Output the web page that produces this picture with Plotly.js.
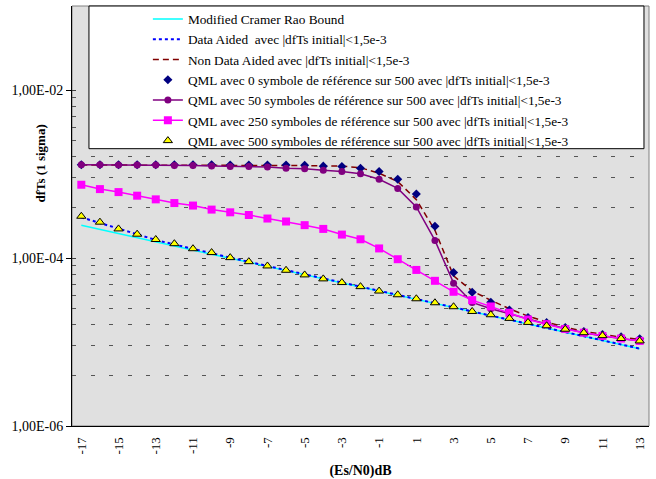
<!DOCTYPE html>
<html>
<head>
<meta charset="utf-8">
<script src="https://cdn.plot.ly/plotly-3.0.1.min.js"></script>
<style>html,body{margin:0;padding:0;background:#fff;}#chart{width:656px;height:479px;}</style>
</head>
<body>
<div id="chart"></div>
<script>
// Es/N0 (dB)
const esn0 = [-17,-16,-15,-14,-13,-12,-11,-10,-9,-8,-7,-6,-5,-4,-3,-2,-1,0,1,2,3,4,5,6,7,8,9,10,11,12,13];

const crb = [2.46e-4,2.19e-4,1.96e-4,1.75e-4,1.56e-4,1.40e-4,1.25e-4,1.11e-4,9.96e-5,8.90e-5,7.95e-5,7.10e-5,6.35e-5,5.67e-5,5.06e-5,4.52e-5,4.04e-5,3.61e-5,3.22e-5,2.88e-5,2.57e-5,2.30e-5,2.05e-5,1.83e-5,1.64e-5,1.46e-5,1.31e-5,1.17e-5,1.04e-5,9.32e-6,8.33e-6];

const dataAided = [3.05e-4,2.62e-4,2.25e-4,1.95e-4,1.64e-4,1.45e-4,1.28e-4,1.13e-4,1.01e-4,9.0e-5,8.05e-5,7.2e-5,6.4e-5,5.72e-5,5.1e-5,4.56e-5,4.07e-5,3.63e-5,3.24e-5,2.9e-5,2.59e-5,2.31e-5,2.06e-5,1.84e-5,1.65e-5,1.47e-5,1.31e-5,1.17e-5,1.05e-5,9.35e-6,8.35e-6];

const nonDataAided = [1.28e-3,1.28e-3,1.28e-3,1.28e-3,1.28e-3,1.28e-3,1.28e-3,1.28e-3,1.28e-3,1.28e-3,1.28e-3,1.27e-3,1.26e-3,1.25e-3,1.24e-3,1.19e-3,1.02e-3,8.14e-4,4.95e-4,2.14e-4,6.12e-5,4.06e-5,3.14e-5,2.49e-5,2.03e-5,1.73e-5,1.50e-5,1.34e-5,1.23e-5,1.14e-5,1.07e-5];

const qml0 = [1.29e-3,1.29e-3,1.29e-3,1.29e-3,1.29e-3,1.29e-3,1.29e-3,1.29e-3,1.28e-3,1.28e-3,1.28e-3,1.28e-3,1.27e-3,1.24e-3,1.23e-3,1.17e-3,1.07e-3,8.67e-4,5.77e-4,2.39e-4,6.73e-5,3.91e-5,2.97e-5,2.40e-5,1.96e-5,1.70e-5,1.49e-5,1.33e-5,1.23e-5,1.15e-5,1.09e-5];

const qml50 = [1.285e-3,1.285e-3,1.28e-3,1.28e-3,1.277e-3,1.262e-3,1.26e-3,1.244e-3,1.227e-3,1.23e-3,1.21e-3,1.17e-3,1.153e-3,1.11e-3,1.07e-3,1.005e-3,8.67e-4,6.73e-4,4.05e-4,1.62e-4,5.02e-5,2.96e-5,2.49e-5,2.17e-5,1.87e-5,1.64e-5,1.45e-5,1.29e-5,1.18e-5,1.10e-5,1.03e-5];

const qml250 = [7.45e-4,6.61e-4,6.09e-4,5.52e-4,4.99e-4,4.51e-4,4.21e-4,3.77e-4,3.50e-4,3.25e-4,2.95e-4,2.72e-4,2.46e-4,2.22e-4,1.90e-4,1.67e-4,1.30e-4,9.67e-5,7.21e-5,5.35e-5,3.96e-5,3.15e-5,2.65e-5,2.23e-5,1.85e-5,1.63e-5,1.43e-5,1.29e-5,1.18e-5,1.10e-5,1.03e-5];

const qml500 = [3.14e-4,2.67e-4,2.22e-4,1.92e-4,1.66e-4,1.48e-4,1.29e-4,1.16e-4,1.01e-4,9.04e-5,8.04e-5,7.14e-5,6.29e-5,5.64e-5,5.10e-5,4.56e-5,4.04e-5,3.65e-5,3.27e-5,2.93e-5,2.63e-5,2.31e-5,2.11e-5,1.91e-5,1.71e-5,1.56e-5,1.42e-5,1.29e-5,1.19e-5,1.10e-5,1.03e-5];

const seriesNames = [
  'Modified Cramer Rao Bound',
  'Data Aided  avec |dfTs initial|&lt;1,5e-3',
  'Non Data Aided avec |dfTs initial|&lt;1,5e-3',
  'QML avec 0 symbole de référence sur 500 avec |dfTs initial|&lt;1,5e-3',
  'QML avec 50 symboles de référence sur 500 avec |dfTs initial|&lt;1,5e-3',
  'QML avec 250 symboles de référence sur 500 avec |dfTs initial|&lt;1,5e-3',
  'QML avec 500 symboles de référence sur 500 avec |dfTs initial|&lt;1,5e-3'
];

const xTickVals = [-17,-15,-13,-11,-9,-7,-5,-3,-1,1,3,5,7,9,11,13];
const xTickText = xTickVals.map(String);
const yTickVals = [1e-6,1e-4,1e-2];
const yTickText = ['1,00E-06','1,00E-04','1,00E-02'];
const yGridVals = [8.1e-5,6.4e-5,4.9e-5,3.6e-5,2.5e-5,1.6e-5,9e-6,4e-6,8.1e-3,6.4e-3,4.9e-3,3.6e-3,2.5e-3,1.6e-3,9e-4,4e-4];

const serif = 'Liberation Serif, Times New Roman, serif';

const traces = [
  {x: esn0, y: crb, name: seriesNames[0], mode: 'lines', line: {color: '#00ffff', width: 1.5}},
  {x: esn0, y: dataAided, name: seriesNames[1], mode: 'lines', line: {color: '#0000ff', width: 2, dash: 'dot'}},
  {x: esn0, y: nonDataAided, name: seriesNames[2], mode: 'lines', line: {color: '#800000', width: 1.5, dash: '6px,4px'}},
  {x: esn0, y: qml0, name: seriesNames[3], mode: 'markers', marker: {symbol: 'diamond', color: '#000080', size: 7}},
  {x: esn0, y: qml50, name: seriesNames[4], mode: 'lines+markers', line: {color: '#800080', width: 1.5}, marker: {symbol: 'circle', color: '#800080', size: 7}},
  {x: esn0, y: qml250, name: seriesNames[5], mode: 'lines+markers', line: {color: '#ff00ff', width: 1.5}, marker: {symbol: 'square', color: '#ff00ff', size: 8}},
  {x: esn0, y: qml500, name: seriesNames[6], mode: 'markers', marker: {symbol: 'triangle-up', color: '#ffff00', size: 8, line: {color: '#000000', width: 1}}}
];

const layout = {
  width: 656, height: 479,
  margin: {l: 72, r: 7, t: 5, b: 53},
  paper_bgcolor: '#ffffff',
  plot_bgcolor: '#e0e0e0',
  font: {family: serif, color: '#000', size: 13},
  showlegend: true,
  legend: {
    x: 0.1315, xanchor: 'left', y: 1.003, yanchor: 'top',
    bgcolor: 'rgba(0,0,0,0)', borderwidth: 0,
    font: {family: serif, size: 13.3, color: '#000'},
    itemwidth: 30, tracegroupgap: 0
  },
  xaxis: {
    type: 'linear', range: [-17.5, 13.5],
    tickmode: 'array', tickvals: xTickVals, ticktext: xTickText,
    ticks: 'outside', ticklen: 5, tickcolor: 'rgba(0,0,0,0)',
    tickangle: -90, tickfont: {family: serif, size: 13, color: '#000'},
    showline: true, linecolor: '#000', linewidth: 1,
    showgrid: false, zeroline: false,
    title: {text: '<b>(Es/N0)dB</b>', font: {family: serif, size: 14, color: '#000'}, standoff: 12}
  },
  xaxis2: {
    type: 'linear', range: [-17.5, 13.5], overlaying: 'x', anchor: 'y', side: 'bottom',
    tickmode: 'linear', tick0: -17.5, dtick: 1,
    ticks: 'outside', ticklen: 5, tickcolor: '#000', tickwidth: 1,
    showticklabels: false, showline: false, showgrid: false, zeroline: false
  },
  xaxis3: {
    type: 'linear', range: [-17.5, 13.5], overlaying: 'x', anchor: 'y', side: 'bottom',
    tickmode: 'linear', tick0: -17.5, dtick: 1,
    ticks: 'inside', ticklen: 4, tickcolor: '#000', tickwidth: 1,
    showticklabels: false, showline: false, showgrid: false, zeroline: false
  },
  yaxis: {
    type: 'log', range: [-6, -1],
    tickmode: 'array', tickvals: yTickVals, ticktext: yTickText,
    ticks: 'outside', ticklen: 5, tickcolor: '#000',
    tickfont: {family: serif, size: 14, color: '#000'},
    showline: true, linecolor: '#000', linewidth: 1,
    showgrid: true, gridcolor: '#404040', gridwidth: 1, griddash: '4px,14.6px',
    zeroline: false,
    minor: {tickmode: 'array', tickvals: yGridVals, ticks: '', showgrid: true, gridcolor: '#555555', gridwidth: 1, griddash: '4px,14.6px'}
  },
  shapes: [
    {type: 'rect', xref: 'paper', yref: 'paper', x0: 0, x1: 1, y0: 0, y1: 1, line: {color: '#808080', width: 1}, layer: 'below'},
    {type: 'rect', xref: 'paper', yref: 'paper', x0: 0.0294, x1: 0.9913, y0: 0.6603, y1: 1, fillcolor: '#ffffff', line: {color: '#000', width: 1}, layer: 'above'}
  ],
  annotations: [
    {text: '<b>dfTs (1 sigma)</b>', textangle: -90, xref: 'paper', yref: 'paper', x: -0.0554, y: 0.625, xanchor: 'center', yanchor: 'middle', showarrow: false, font: {family: serif, size: 13, color: '#000'}}
  ]
};

Plotly.newPlot('chart', traces, layout, {displayModeBar: false, staticPlot: true});
</script>
</body>
</html>
